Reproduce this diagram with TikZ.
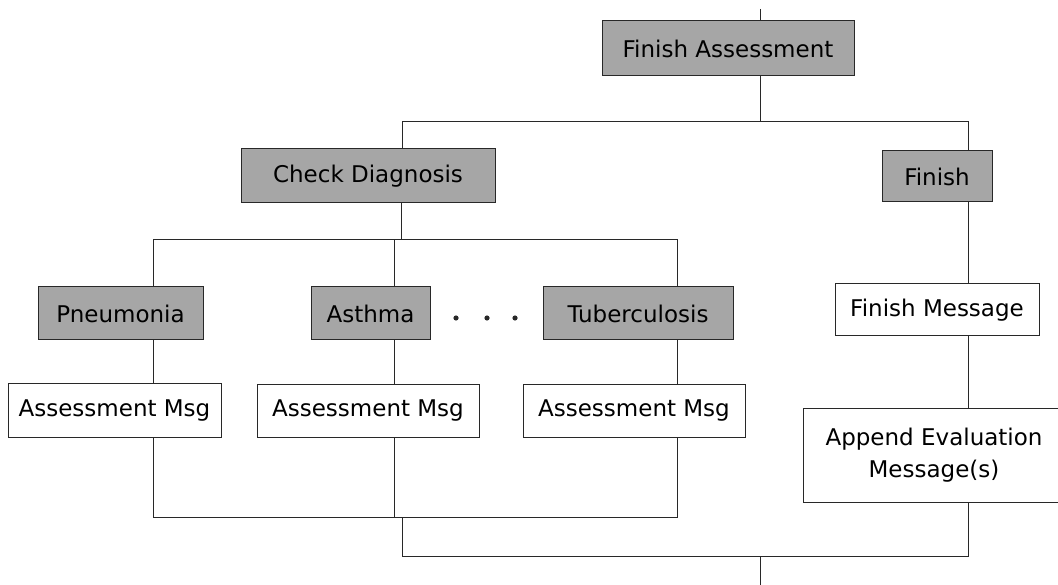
\documentclass[tikz,border=0pt]{standalone}
\usepackage{fontspec}
\setmainfont{DejaVu Sans}
\usepackage{xcolor}
\usetikzlibrary{positioning}

\definecolor{boxgray}{RGB}{166,166,166}
\definecolor{linegray}{RGB}{40,40,40}

\begin{document}
\begin{tikzpicture}[x=1pt, y=-1pt,
    proc/.style={rectangle, draw=linegray, fill=boxgray, line width=1pt, inner sep=0pt, align=center, font=\fontsize{23}{32}\selectfont},
    msg/.style={proc, fill=white},
    link/.style={draw=linegray, line width=1pt}
]
    \useasboundingbox (0,0) rectangle (1058,585);

    % Process nodes
    \node[proc, minimum width=252, minimum height=55] (assess) at (728,48.5) {Finish Assessment};
    \node[proc, minimum width=254, minimum height=54] (diag) at (368,176) {Check Diagnosis};
    \node[proc, minimum width=110, minimum height=51] (finish) at (937,176.5) {Finish};

    \node[proc, minimum width=165, minimum height=53] (pneu) at (120.5,313.5) {Pneumonia};
    \node[proc, minimum width=119, minimum height=53] (asthma) at (370.5,313.5) {Asthma};
    \node[proc, minimum width=190, minimum height=53] (tuber) at (638,313.5) {Tuberculosis};

    % Message nodes
    \node[msg, minimum width=213, minimum height=53] (msgpneu) at (114.5,410.5) {Assessment Msg};
    \node[msg, minimum width=222, minimum height=52] (msgasthma) at (368,411) {Assessment Msg};
    \node[msg, minimum width=222, minimum height=52] (msgtuber) at (634,411) {Assessment Msg};
    \node[msg, minimum width=204, minimum height=52] (finmsg) at (937,310) {Finish Message};
    \node[msg, minimum width=262, minimum height=94] (append) at (934,455) {Append Evaluation\\Message(s)};

    % Junction points
    \coordinate (entry) at (760,9);
    \coordinate (exit) at (760,585);
    \coordinate (splitA) at (760,122);
    \coordinate (splitAl) at (402,122);
    \coordinate (splitAr) at (968,122);
    \coordinate (splitB) at (401,240);
    \coordinate (splitBl) at (153,240);
    \coordinate (splitBm) at (394,240);
    \coordinate (splitBr) at (677,240);
    \coordinate (joinBl) at (153,517);
    \coordinate (joinBm) at (394,517);
    \coordinate (joinBr) at (677,517);
    \coordinate (joinB) at (402,517);
    \coordinate (joinAl) at (402,556);
    \coordinate (joinA) at (760,556);
    \coordinate (joinAr) at (968,556);

    % Connectors
    \draw[link] (entry) -- (assess.north -| entry);
    \draw[link] (assess.south -| splitA) -- (splitA);
    \draw[link] (diag.north -| splitAl) |- (splitAr) -- (finish.north -| splitAr);

    \draw[link] (diag.south -| splitB) -- (splitB);
    \draw[link] (pneu.north -| splitBl) |- (splitBr) -- (tuber.north -| splitBr);
    \draw[link] (asthma.north -| splitBm) -- (splitBm);

    \draw[link] (pneu.south -| splitBl) -- (msgpneu.north -| splitBl);
    \draw[link] (asthma.south -| splitBm) -- (msgasthma.north -| splitBm);
    \draw[link] (tuber.south -| splitBr) -- (msgtuber.north -| splitBr);

    \draw[link] (msgpneu.south -| joinBl) |- (joinBr) -- (msgtuber.south -| joinBr);
    \draw[link] (msgasthma.south -| joinBm) -- (joinBm);

    \draw[link] (finish.south -| splitAr) -- (finmsg.north -| splitAr);
    \draw[link] (finmsg.south -| splitAr) -- (append.north -| splitAr);

    \draw[link] (joinB) -- (joinAl) -- (joinAr) -- (append.south -| joinAr);
    \draw[link] (joinA) -- (exit);

    % Ellipsis between the diagnoses
    \foreach \dx in {456,487,515}
        \fill[linegray] (\dx,318) circle (2.6);
\end{tikzpicture}
\end{document}
